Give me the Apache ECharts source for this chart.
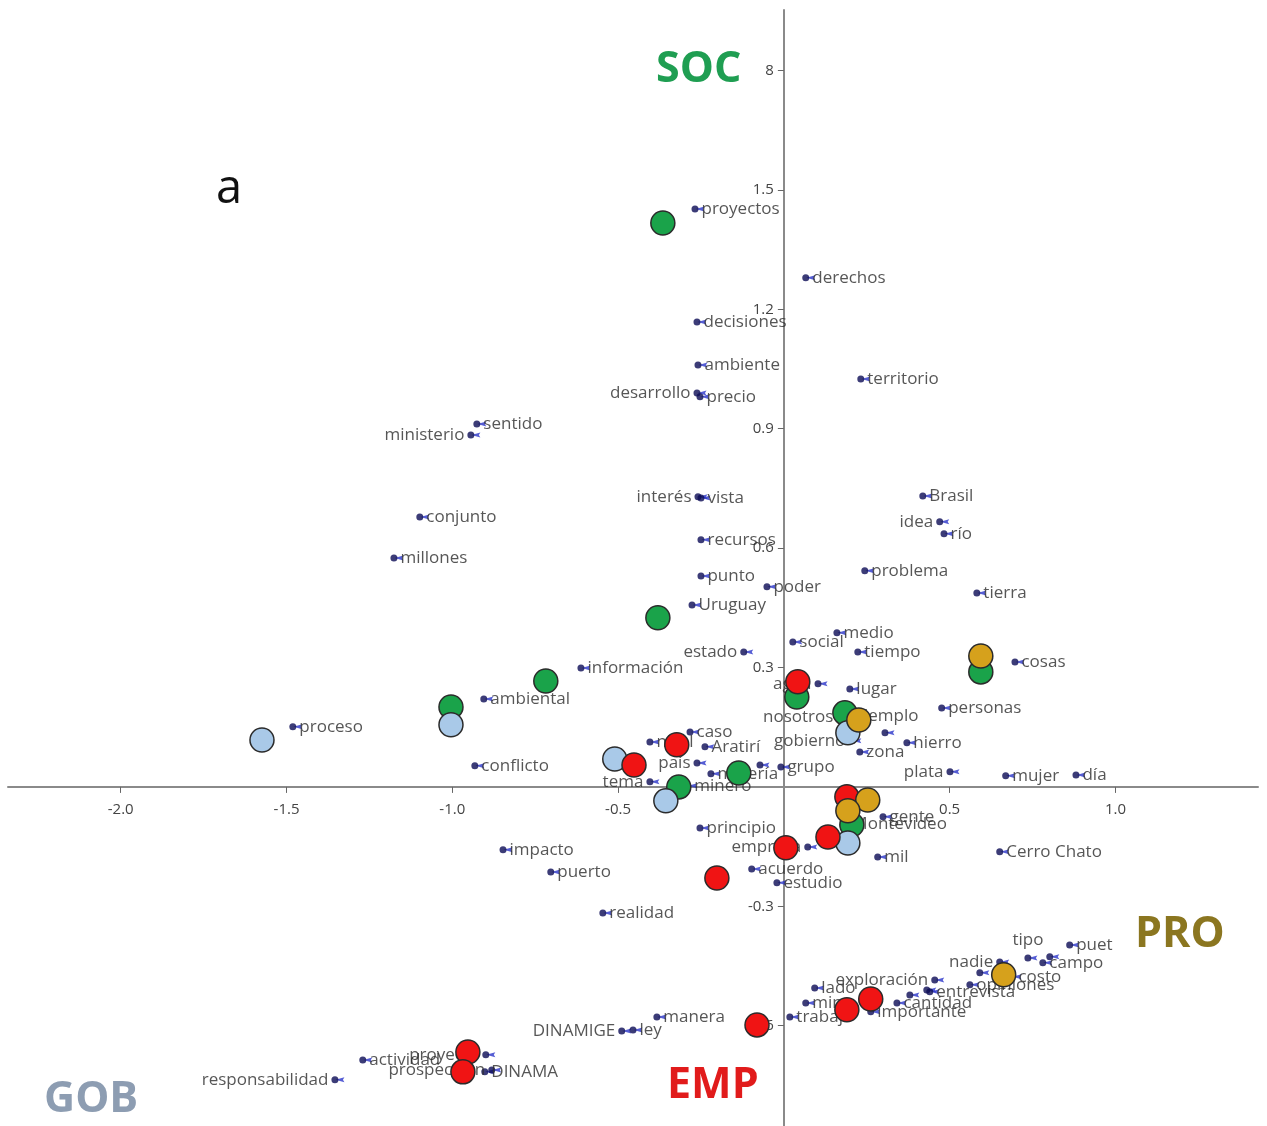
<!DOCTYPE html>
<html>
<head>
<meta charset="utf-8">
<script src="https://cdn.jsdelivr.net/npm/echarts@6/dist/echarts.min.js"></script>
<style>
  html, body { margin: 0; padding: 0; background: #fff; }
  #chart { width: 1267px; height: 1126px; }
</style>
</head>
<body>
<div id="chart"></div>
<script>
// palabras (coordenadas en el plano factorial)
const wordNames = [
  'proyectos', 'derechos', 'decisiones', 'ambiente', 'desarrollo', 'precio', 'territorio',
  'ministerio', 'sentido', 'interés', 'vista', 'conjunto', 'millones', 'recursos', 'punto',
  'poder', 'Uruguay', 'Brasil', 'idea', 'río', 'problema', 'tierra', 'medio', 'social',
  'tiempo', 'estado', 'información', 'cosas', 'agua', 'lugar', 'personas', 'ambiental',
  'proceso', 'nosotros', 'ejemplo', 'caso', 'gobierno', 'nivel', 'Aratirí', 'hierro', 'zona',
  'país', 'conflicto', 'grupo', 'plata', 'mujer', 'día', 'tema', 'minería', 'minero',
  'gente', 'Montevideo', 'principio', 'impacto', 'empresa', 'mil', 'Cerro Chato', 'acuerdo',
  'puerto', 'estudio', 'realidad', 'puet', 'tipo', 'nadie', 'campo', 'costo', 'opiniones',
  'exploración', 'entrevista', 'lado', 'cantidad', 'mina', 'importante', 'trabajo', 'manera',
  'ley', 'DINAMIGE', 'proyecto', 'actividad', 'DINAMA', 'prospección', 'responsabilidad',
  '', '', '', '', '', ''
];
const wordX = [
  -0.268, 0.066, -0.262, -0.259, -0.262, -0.253, 0.232,
  -0.944, -0.926, -0.259, -0.250, -1.098, -1.176, -0.250, -0.250,
  -0.051, -0.277, 0.419, 0.470, 0.483, 0.244, 0.582, 0.160, 0.027,
  0.223, -0.121, -0.612, 0.697, 0.103, 0.199, 0.476, -0.905,
  -1.481, 0.169, 0.193, -0.283, 0.205, -0.404, -0.238, 0.371, 0.229,
  -0.262, -0.932, -0.009, 0.501, 0.669, 0.881, -0.404, -0.220, -0.290,
  0.299, 0.187, -0.253, -0.847, 0.072, 0.283, 0.651, -0.097,
  -0.703, -0.021, -0.546, 0.862, 0.736, 0.651, 0.781, 0.688, 0.561,
  0.455, 0.440, 0.093, 0.341, 0.066, 0.262, 0.018, -0.383,
  -0.455, -0.489, -0.899, -1.270, -0.902, -0.881, -1.354,
  -0.072, 0.305, 0.380, 0.431, 0.591, 0.802
];
const wordY = [
  1.452, 1.279, 1.168, 1.060, 0.990, 0.980, 1.025,
  0.884, 0.912, 0.729, 0.726, 0.678, 0.575, 0.621, 0.530,
  0.503, 0.457, 0.731, 0.666, 0.636, 0.543, 0.487, 0.387, 0.364,
  0.339, 0.339, 0.299, 0.314, 0.259, 0.246, 0.198, 0.221,
  0.151, 0.176, 0.178, 0.138, 0.116, 0.113, 0.101, 0.111, 0.088,
  0.060, 0.053, 0.050, 0.038, 0.028, 0.030, 0.013, 0.033, 0.003,
  -0.075, -0.093, -0.103, -0.158, -0.151, -0.176, -0.163, -0.206,
  -0.214, -0.241, -0.317, -0.397, -0.430, -0.440, -0.442, -0.477, -0.497,
  -0.485, -0.515, -0.505, -0.543, -0.543, -0.565, -0.578, -0.578,
  -0.611, -0.613, -0.673, -0.686, -0.716, -0.711, -0.736,
  0.055, 0.136, -0.523, -0.510, -0.467, -0.427
];

// actores
const socX = [-0.365, -0.380, -0.718, -1.004, 0.039, 0.184, -0.136, -0.317, 0.205, 0.594];
const socY = [1.417, 0.425, 0.266, 0.201, 0.226, 0.186, 0.035, 0.000, -0.095, 0.289];
const gobX = [-1.574, -1.004, -0.510, -0.356, 0.193, 0.193];
const gobY = [0.118, 0.156, 0.070, -0.035, 0.136, -0.141];
const empX = [0.042, -0.323, -0.452, 0.006, -0.202, 0.133, 0.190, 0.262, 0.190, -0.081, -0.953, -0.968];
const empY = [0.264, 0.106, 0.055, -0.153, -0.229, -0.126, -0.025, -0.533, -0.560, -0.598, -0.666, -0.716];
const proX = [0.594, 0.226, 0.253, 0.193, 0.663];
const proY = [0.329, 0.168, -0.033, -0.060, -0.472];

const xTicks = [-2.0, -1.5, -1.0, -0.5, 0.5, 1.0];
const yTicks = [-0.6, -0.3, 0.3, 0.6, 0.9, 1.2, 1.5, 1.8];

// etiquetas a la izquierda / arriba del punto
const leftWords = ['desarrollo', 'ministerio', 'interés', 'idea', 'estado', 'agua', 'nosotros',
  'gobierno', 'país', 'plata', 'tema', 'empresa', 'nadie', 'exploración', 'DINAMIGE',
  'proyecto', 'prospección', 'responsabilidad'];
const topWords = ['tipo'];

const FONT = 'Open Sans';
const X_MIN = -2.34, X_MAX = 1.43, Y_MIN = -0.852, Y_MAX = 1.952;
const W = 1267, H = 1126;
const G = { left: 8, right: 9, top: 10, bottom: 0 };

// ejes cruzando en el origen: desplazamiento desde el borde de la rejilla
const plotW = W - G.left - G.right, plotH = H - G.top - G.bottom;
const xAxisShift = -(0 - Y_MIN) / (Y_MAX - Y_MIN) * plotH;
const yAxisShift = -(0 - X_MIN) / (X_MAX - X_MIN) * plotW;

function zip(xs, ys) { return xs.map((x, i) => [x, ys[i]]); }

const wordData = wordNames.map((n, i) => {
  let label = { position: 'right', distance: 3, offset: [0, 5] };
  if (leftWords.includes(n)) label = { position: 'left', distance: 3, offset: [0, 2] };
  if (topWords.includes(n)) label = { position: 'top', distance: 6, offset: [-8, 0] };
  return { name: n, value: [wordX[i], wordY[i]], label: label };
});

function group(name, xs, ys, color, z) {
  return {
    name: name,
    type: 'scatter',
    z: z,
    symbol: 'circle',
    symbolSize: 24,
    data: zip(xs, ys),
    itemStyle: { color: color, borderColor: '#2b2b2b', borderWidth: 1.5, opacity: 1 },
    emphasis: { disabled: true }
  };
}

function tag(text, left, top, color, shadow) {
  return { type: 'text', z: 20, left: left, top: top,
    style: { text: text, fill: color, font: 'bold 43px "Open Sans"',
      shadowBlur: 3, shadowColor: shadow } };
}

const chart = echarts.init(document.getElementById('chart'));

const option = {
  animation: false,
  backgroundColor: '#ffffff',
  grid: Object.assign({ containLabel: false, outerBoundsMode: 'none' }, G),
  xAxis: {
    type: 'value',
    min: X_MIN,
    max: X_MAX,
    position: 'bottom',
    offset: xAxisShift,
    axisLine: { onZero: false, lineStyle: { color: '#8a8a8a', width: 2 } },
    axisTick: { show: true, customValues: xTicks, length: 6, inside: false,
      lineStyle: { color: '#666', width: 1 } },
    axisLabel: { customValues: xTicks, margin: 15, color: '#444', fontSize: 15, fontFamily: FONT,
      formatter: v => v.toFixed(1) },
    splitLine: { show: false }
  },
  yAxis: {
    type: 'value',
    min: Y_MIN,
    max: Y_MAX,
    position: 'left',
    offset: yAxisShift,
    axisLine: { onZero: false, lineStyle: { color: '#8a8a8a', width: 2 } },
    axisTick: { show: true, customValues: yTicks, length: 6,
      lineStyle: { color: '#666', width: 1 } },
    axisLabel: { customValues: yTicks, margin: 10, color: '#444', fontSize: 15, fontFamily: FONT,
      formatter: v => (Math.abs(v - 1.8) < 1e-6 ? '8' : v.toFixed(1)) },
    splitLine: { show: false }
  },
  series: [
    {
      name: 'marcas',
      type: 'scatter',
      z: 2,
      silent: true,
      symbol: 'path://M0,4 L12,0 L10,4 L12,8 Z',
      symbolSize: [9, 5],
      symbolOffset: [5, 0],
      data: zip(wordX, wordY),
      itemStyle: { color: '#2a34c9' }
    },
    {
      name: 'palabras',
      type: 'scatter',
      z: 2,
      symbol: 'circle',
      symbolSize: 7,
      data: wordData,
      itemStyle: { color: '#0b0b55' },
      label: {
        show: true,
        formatter: '{b}',
        color: '#2c2c2c',
        fontSize: 17,
        fontFamily: FONT
      },
      labelLayout: { hideOverlap: false },
      emphasis: { disabled: true }
    },
    group('SOC', socX, socY, '#1aa34a', 3),
    group('GOB', gobX, gobY, '#a9c9e8', 4),
    group('EMP', empX, empY, '#f01414', 5),
    group('PRO', proX, proY, '#d6a11c', 6)
  ],
  graphic: [
    tag('SOC', 656, 48, '#1f9e52', 'rgba(0,80,30,0.35)'),
    tag('PRO', 1135, 913, '#8b7620', 'rgba(80,60,0,0.35)'),
    tag('EMP', 667, 1064, '#e11b1b', 'rgba(120,0,0,0.35)'),
    tag('GOB', 44, 1078, '#8d9db2', 'rgba(40,50,70,0.3)'),
    { type: 'text', z: 20, left: 216, top: 166,
      style: { text: 'a', fill: '#111', font: '47px "Open Sans"' } }
  ]
};

chart.setOption(option);
</script>
</body>
</html>
